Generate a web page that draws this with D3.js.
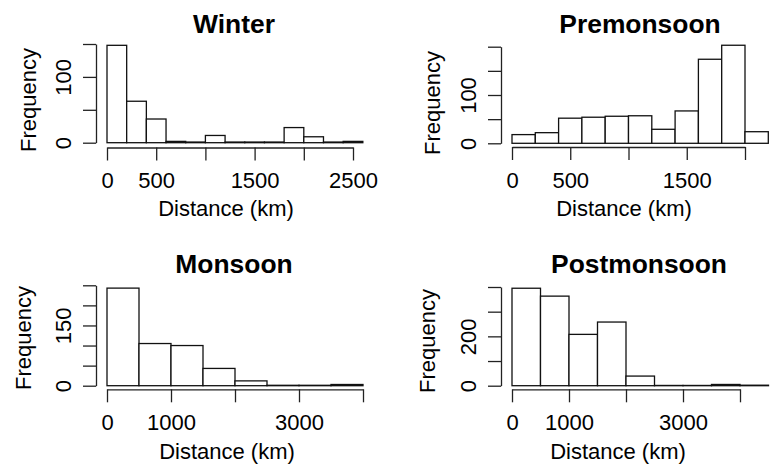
<!DOCTYPE html>
<html>
<head>
<meta charset="utf-8">
<script src="https://cdn.jsdelivr.net/npm/d3@7"></script>
<style>
  html, body { margin: 0; padding: 0; background: #fff; }
  svg { display: block; }
  text { font-family: "Liberation Sans", Arial, Helvetica, sans-serif; fill: #000; }
</style>
</head>
<body>
<svg id="chart" width="772" height="472"></svg>
<script>
// ---- Data ----
const titles = ["Winter", "Premonsoon", "Monsoon", "Postmonsoon"];
const binWidths = [200, 200, 500, 500];

const winterCounts      = [148, 63, 36, 2, 1, 11, 1, 1, 1, 23, 9, 1, 2];
const premonsoonCounts  = [18, 22, 52, 54, 56, 57, 29, 67, 174, 203, 24];
const monsoonCounts     = [243, 105, 100, 43, 12, 1, 1, 3];
const postmonsoonCounts = [395, 363, 208, 258, 39, 1, 1, 5, 2];

const winterXTicks      = [0, 500, 1000, 1500, 2000, 2500];
const winterXLabels     = ["0", "500", "", "1500", "", "2500"];
const premonsoonXTicks  = [0, 500, 1000, 1500, 2000];
const premonsoonXLabels = ["0", "500", "", "1500", ""];
const monsoonXTicks     = [0, 1000, 2000, 3000, 4000];
const monsoonXLabels    = ["0", "1000", "", "3000", ""];
const postmonsoonXTicks = [0, 1000, 2000, 3000, 4000];
const postmonsoonXLabels= ["0", "1000", "", "3000", ""];

const winterYTicks      = [0, 50, 100, 150];
const winterYLabels     = ["0", "", "100", ""];
const premonsoonYTicks  = [0, 50, 100, 150, 200];
const premonsoonYLabels = ["0", "", "100", "", ""];
const monsoonYTicks     = [0, 50, 100, 150, 200, 250];
const monsoonYLabels    = ["0", "", "", "150", "", ""];
const postmonsoonYTicks = [0, 100, 200, 300, 400];
const postmonsoonYLabels= ["0", "", "200", "", ""];

const xAxisTitle = "Distance (km)";
const yAxisTitle = "Frequency";

const countsList = [winterCounts, premonsoonCounts, monsoonCounts, postmonsoonCounts];
const xTicksList = [winterXTicks, premonsoonXTicks, monsoonXTicks, postmonsoonXTicks];
const xLabelsList = [winterXLabels, premonsoonXLabels, monsoonXLabels, postmonsoonXLabels];
const yTicksList = [winterYTicks, premonsoonYTicks, monsoonYTicks, postmonsoonYTicks];
const yLabelsList = [winterYLabels, premonsoonYLabels, monsoonYLabels, postmonsoonYLabels];

// ---- Layout (pixel geometry per panel) ----
const layout = [
  { xr: [107, 353], yr: [142.7, 44],   axisY: 147.5, yAxisX: 96,  title: [234, 33],  xlab: [226, 216], ylab: [36, 100] },
  { xr: [512, 745], yr: [143.3, 46.7], axisY: 147.0, yAxisX: 501, title: [640, 33],  xlab: [624, 216], ylab: [440, 103] },
  { xr: [107, 363], yr: [385.7, 285.3],axisY: 389.3, yAxisX: 96,  title: [234, 273], xlab: [227, 459], ylab: [31, 338] },
  { xr: [512, 740], yr: [385.7, 287],  axisY: 389.3, yAxisX: 501, title: [639, 273], xlab: [618, 459], ylab: [435, 341] }
];

const svg = d3.select("#chart");
const FS = 22;

titles.forEach((title, i) => {
  const L = layout[i];
  const counts = countsList[i];
  const bw = binWidths[i];
  const xT = xTicksList[i], xL = xLabelsList[i];
  const yT = yTicksList[i], yL = yLabelsList[i];

  const x = d3.scaleLinear().domain([xT[0], xT[xT.length - 1]]).range(L.xr);
  const y = d3.scaleLinear().domain([yT[0], yT[yT.length - 1]]).range(L.yr);

  const g = svg.append("g");

  // bars
  const bins = counts.map((c, k) => ({ x0: k * bw, x1: (k + 1) * bw, c }));
  g.selectAll("rect.bar").data(bins).join("rect")
    .attr("class", "bar")
    .attr("x", d => x(d.x0))
    .attr("width", d => x(d.x1) - x(d.x0))
    .attr("y", d => y(d.c))
    .attr("height", d => y(0) - y(d.c))
    .attr("fill", "#fff")
    .attr("stroke", "#111")
    .attr("stroke-width", 1.3);

  // x axis
  const xa = g.append("g")
    .attr("transform", `translate(0,${L.axisY})`)
    .call(d3.axisBottom(x).tickValues(xT).tickSize(13).tickSizeOuter(0)
      .tickFormat((d, k) => xL[k]));
  xa.select(".domain").attr("stroke", "#222").attr("stroke-width", 1.3);
  xa.selectAll(".tick line").attr("stroke", "#222").attr("stroke-width", 1.3);
  xa.selectAll(".tick text")
    .attr("y", 40.5).attr("dy", 0)
    .attr("font-size", FS).attr("font-family", "Liberation Sans, Arial, sans-serif")
    .attr("fill", "#000");

  // y axis
  const ya = g.append("g")
    .attr("transform", `translate(${L.yAxisX},0)`)
    .call(d3.axisLeft(y).tickValues(yT).tickSize(13).tickSizeOuter(0)
      .tickFormat((d, k) => yL[k]));
  ya.select(".domain").attr("stroke", "#222").attr("stroke-width", 1.3);
  ya.selectAll(".tick line").attr("stroke", "#222").attr("stroke-width", 1.3);
  ya.selectAll(".tick text")
    .attr("transform", "rotate(-90)")
    .attr("x", 0).attr("y", -25).attr("dy", 0)
    .attr("text-anchor", "middle")
    .attr("font-size", FS).attr("font-family", "Liberation Sans, Arial, sans-serif")
    .attr("fill", "#000");

  // titles
  g.append("text")
    .attr("x", L.title[0]).attr("y", L.title[1])
    .attr("text-anchor", "middle")
    .attr("font-size", 26.4).attr("font-weight", "bold")
    .text(title);

  g.append("text")
    .attr("x", L.xlab[0]).attr("y", L.xlab[1])
    .attr("text-anchor", "middle")
    .attr("font-size", FS)
    .text(xAxisTitle);

  g.append("text")
    .attr("transform", `translate(${L.ylab[0]},${L.ylab[1]}) rotate(-90)`)
    .attr("text-anchor", "middle")
    .attr("font-size", FS)
    .text(yAxisTitle);
});
</script>
</body>
</html>
